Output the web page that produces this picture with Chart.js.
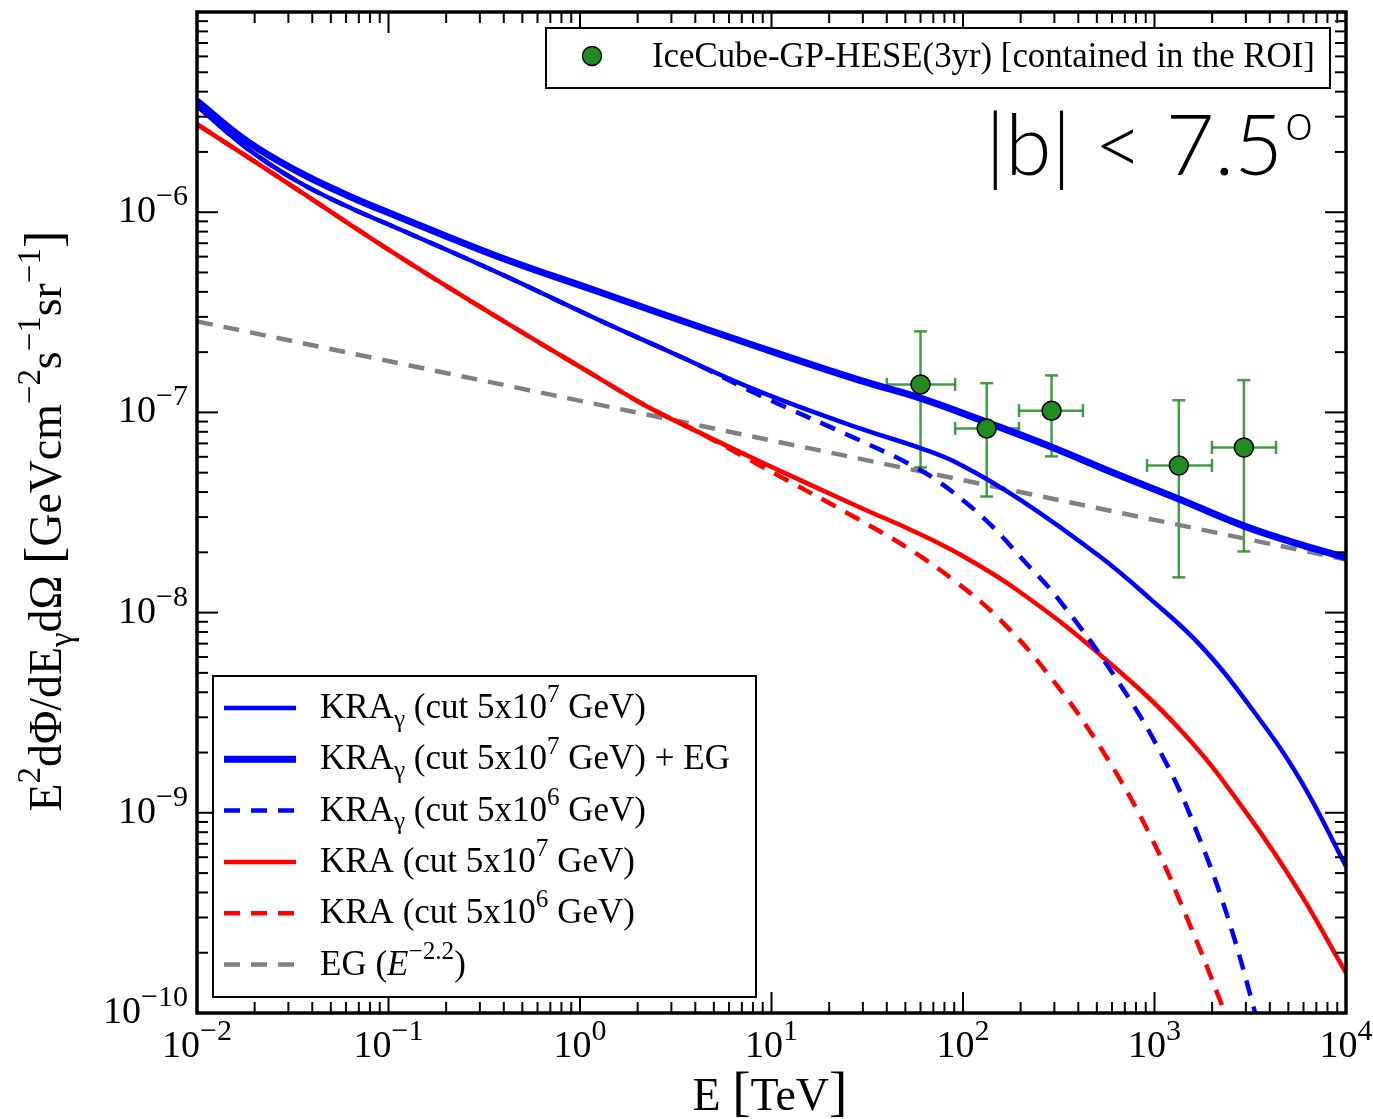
<!DOCTYPE html>
<html lang="en">
<head>
<meta charset="UTF-8" />
<title>KRA gamma |b| &lt; 7.5</title>
<script src="https://cdn.jsdelivr.net/npm/chart.js"></script>
<style>
body { margin: 0; background: #fff; }
#wrap { width: 1373px; height: 1119px; }
</style>
</head>
<body>
<div id="wrap"><canvas id="myChart" width="1373" height="1119"></canvas></div>
<script>
// tick labels (powers of ten)
const xTickExps = [-2, -1, 0, 1, 2, 3, 4];
const yTickExps = [-10, -9, -8, -7, -6];

// E in TeV, E^2 dPhi/dE in GeV cm^-2 s^-1 sr^-1
// KRA_gamma (cut 5x10^7 GeV) + EG
const eKraG7EG = [0.01, 0.0182, 0.0333, 0.0607, 0.111, 0.369, 1.23, 2.62, 8.7, 29, 60.4, 133.5, 285, 622, 1359, 2898, 5751, 10000];
const fKraG7EG = [3.59e-6, 2.265e-6, 1.603e-6, 1.216e-6, 9.55e-7, 6.03e-7, 4.03e-7, 3.13e-7, 2.11e-7, 1.445e-7, 1.175e-7, 8.91e-8, 6.76e-8, 4.95e-8, 3.67e-8, 2.72e-8, 2.19e-8, 1.88e-8];
// KRA_gamma (cut 5x10^7 GeV)
const eKraG7 = [0.01, 0.0182, 0.0333, 0.0607, 0.111, 0.369, 1.23, 2.62, 8.7, 29, 60.4, 96.5, 198.5, 519, 947, 1728, 3154, 5751, 10000];
const fKraG7 = [3.39e-6, 2.09e-6, 1.43e-6, 1.07e-6, 8.32e-7, 5.01e-7, 2.92e-7, 2.11e-7, 1.27e-7, 8.32e-8, 6.61e-8, 5.50e-8, 3.67e-8, 1.905e-8, 1.175e-8, 6.9e-9, 3.4e-9, 1.47e-9, 5.4e-10];
// KRA_gamma (cut 5x10^6 GeV)
const eKraG6 = [0.01, 0.0182, 0.0333, 0.0607, 0.111, 0.369, 1.23, 2.62, 4.08, 8.7, 29, 52.9, 73.1, 98.8, 127, 160, 198.5, 310, 637, 1162, 1728, 2391, 3268, 3776];
const fKraG6 = [3.39e-6, 2.09e-6, 1.43e-6, 1.07e-6, 8.32e-7, 5.01e-7, 2.92e-7, 2.11e-7, 1.738e-7, 1.216e-7, 7.24e-8, 5.50e-8, 4.57e-8, 3.67e-8, 2.99e-8, 2.40e-8, 1.905e-8, 1.19e-8, 4.62e-9, 1.74e-9, 7.33e-10, 3.09e-10, 1.096e-10, 6.17e-11];
// KRA (cut 5x10^7 GeV)
const eKra7 = [0.01, 0.0182, 0.0333, 0.111, 0.369, 1.23, 2.24, 4.08, 8.7, 29, 52.9, 96.5, 191, 519, 1409, 3154, 5751, 10000];
const fKra7 = [2.75e-6, 1.9e-6, 1.30e-6, 6.10e-7, 2.99e-7, 1.50e-7, 1.07e-7, 8.04e-8, 5.69e-8, 3.35e-8, 2.60e-8, 1.95e-8, 1.30e-8, 6.17e-9, 2.51e-9, 9.44e-10, 3.98e-10, 1.585e-10];
// KRA (cut 5x10^6 GeV)
const eKra6 = [0.01, 0.0182, 0.0333, 0.111, 0.369, 1.23, 2.24, 4.08, 8.7, 28, 51, 88.7, 156, 285, 519, 947, 1532, 2198, 2539];
const fKra6 = [2.75e-6, 1.9e-6, 1.30e-6, 6.10e-7, 2.99e-7, 1.50e-7, 1.07e-7, 8.04e-8, 5.43e-8, 2.95e-8, 2.11e-8, 1.46e-8, 9.23e-9, 4.79e-9, 2.14e-9, 7.76e-10, 2.75e-10, 1.16e-10, 8.0e-11];
// EG (E^-2.2)
const eEG = [0.01, 10000];
const fEG = [2.85e-7, 1.84e-8];

// IceCube-GP-HESE(3yr)
const heseE   = [60, 133, 290, 1340, 2930];
const heseELo = [40, 91, 196, 914, 1995];
const heseEHi = [91, 196, 423, 1995, 4310];
const heseF   = [1.38e-7, 8.32e-8, 1.02e-7, 5.43e-8, 6.68e-8];
const heseFLo = [5.31e-8, 3.80e-8, 6.03e-8, 1.50e-8, 2.02e-8];
const heseFHi = [2.54e-7, 1.40e-7, 1.53e-7, 1.15e-7, 1.45e-7];

const SERIF = '"Liberation Serif", "DejaVu Serif", serif';
const SANS = '"Lato", "Open Sans", "Liberation Sans", sans-serif';
const BLUE = '#0000ff', RED = '#ff0000', GREY = '#808080', GREEN = '#228b22';
const DASH = [16, 11];

function pts(e, f) { return e.map((v, i) => ({ x: v, y: f[i] })); }
function curve(e, f, color, width, dash) {
  return { data: pts(e, f), borderColor: color, borderWidth: width, borderDash: dash || [],
    pointRadius: 0, fill: false, tension: 0.4, order: 2 };
}

// rich text: runs of {t, sup, sub, italic, scale}
function runs(ctx, x, y, list, size, family, draw) {
  let cx = x;
  list.forEach(r => {
    let s = (r.sup || r.sub) ? size * 0.72 : size;
    if (r.scale) s *= r.scale;
    ctx.font = (r.italic ? 'italic ' : '') + s + 'px ' + family;
    const dy = r.sup ? -size * 0.45 : r.sub ? size * 0.25 : 0;
    if (draw) ctx.fillText(r.t, cx, y + dy);
    cx += ctx.measureText(r.t).width;
  });
  return cx - x;
}
function seg(ctx, x0, y0, x1, y1) { ctx.beginPath(); ctx.moveTo(x0, y0); ctx.lineTo(x1, y1); ctx.stroke(); }
function fit(ctx, list, family, target, lo, hi) {
  const w = runs(ctx, 0, 0, list, 100, family, false);
  return Math.max(lo, Math.min(hi, 100 * target / w));
}

const legendRows = [
  { color: BLUE, w: 4.5, dash: [], runs: [{t:'KRA'},{t:'γ',sub:1},{t:' (cut 5x10'},{t:'7',sup:1},{t:' GeV)'}] },
  { color: BLUE, w: 7, dash: [], runs: [{t:'KRA'},{t:'γ',sub:1},{t:' (cut 5x10'},{t:'7',sup:1},{t:' GeV) + EG'}] },
  { color: BLUE, w: 4.5, dash: DASH, runs: [{t:'KRA'},{t:'γ',sub:1},{t:' (cut 5x10'},{t:'6',sup:1},{t:' GeV)'}] },
  { color: RED, w: 4.5, dash: [], runs: [{t:'KRA (cut 5x10'},{t:'7',sup:1},{t:' GeV)'}] },
  { color: RED, w: 4.5, dash: DASH, runs: [{t:'KRA (cut 5x10'},{t:'6',sup:1},{t:' GeV)'}] },
  { color: GREY, w: 4.5, dash: DASH, runs: [{t:'EG ('},{t:'E',italic:1},{t:'−2.2',sup:1},{t:')'}] }
];

const decor = {
  id: 'decor',
  beforeDatasetsDraw(chart) {
    const { ctx } = chart;
    const xs = chart.scales.x, ys = chart.scales.y;
    ctx.save();
    ctx.strokeStyle = 'rgba(34,139,34,0.85)';
    ctx.lineWidth = 2.5;
    heseE.forEach((e, i) => {
      const px = xs.getPixelForValue(e), py = ys.getPixelForValue(heseF[i]);
      const x0 = xs.getPixelForValue(heseELo[i]), x1 = xs.getPixelForValue(heseEHi[i]);
      const y0 = ys.getPixelForValue(heseFLo[i]), y1 = ys.getPixelForValue(heseFHi[i]);
      seg(ctx, x0, py, x1, py);
      seg(ctx, px, y0, px, y1);
      seg(ctx, x0, py - 6.5, x0, py + 6.5);
      seg(ctx, x1, py - 6.5, x1, py + 6.5);
      seg(ctx, px - 6.5, y0, px + 6.5, y0);
      seg(ctx, px - 6.5, y1, px + 6.5, y1);
    });
    ctx.restore();
  },
  afterDraw(chart) {
    const { ctx, chartArea: ca } = chart;
    const xs = chart.scales.x, ys = chart.scales.y;
    ctx.save();
    ctx.strokeStyle = '#000';
    ctx.fillStyle = '#000';

    // ticks, all four sides, pointing in
    ctx.lineWidth = 2;
    for (let d = -2; d <= 4; d++) {
      for (let m = 1; m <= 9; m++) {
        if (d === 4 && m > 1) break;
        const px = xs.getPixelForValue(m * Math.pow(10, d));
        const len = m === 1 ? 21 : 11;
        seg(ctx, px, ca.bottom, px, ca.bottom - len);
        seg(ctx, px, ca.top, px, ca.top + len);
      }
    }
    for (let d = -10; d <= -5; d++) {
      for (let m = 1; m <= 9; m++) {
        if (d === -5 && m > 1) break;
        const py = ys.getPixelForValue(m * Math.pow(10, d));
        const len = m === 1 ? 21 : 11;
        seg(ctx, ca.left, py, ca.left + len, py);
        seg(ctx, ca.right, py, ca.right - len, py);
      }
    }
    ctx.lineWidth = 3.5;
    ctx.strokeRect(ca.left, ca.top, ca.right - ca.left, ca.bottom - ca.top);

    // tick labels
    ctx.textBaseline = 'alphabetic';
    ctx.textAlign = 'left';
    const TS = 38;
    xTickExps.forEach(n => {
      const lab = [{t:'10'},{t:(n < 0 ? '−' : '') + Math.abs(n), sup:1, scale:1.1}];
      const w = runs(ctx, 0, 0, lab, TS, SERIF, false);
      const px = xs.getPixelForValue(Math.pow(10, n));
      runs(ctx, px - w / 2, ca.bottom + 44, lab, TS, SERIF, true);
    });
    yTickExps.forEach(n => {
      const lab = [{t:'10'},{t:'−' + Math.abs(n), sup:1, scale:1.1}];
      const w = runs(ctx, 0, 0, lab, TS, SERIF, false);
      const py = ys.getPixelForValue(Math.pow(10, n));
      runs(ctx, 188 - w, py + 10, lab, TS, SERIF, true);
    });

    // axis titles
    const xt = [{t:'E '},{t:'[',scale:1.2},{t:'TeV'},{t:']',scale:1.2}];
    const xw = runs(ctx, 0, 0, xt, 46, SERIF, false);
    runs(ctx, 770 - xw / 2, 1110, xt, 46, SERIF, true);

    const yt = [{t:'E'},{t:'2',sup:1},{t:'dΦ/dE'},{t:'γ',sub:1},{t:'dΩ '},{t:'[',scale:1.15},{t:'GeVcm'},{t:'−2',sup:1},
      {t:'s'},{t:'−1',sup:1},{t:'sr'},{t:'−1',sup:1},{t:']',scale:1.15}];
    const ys0 = fit(ctx, yt, SERIF, 581, 36, 46);
    const yw = runs(ctx, 0, 0, yt, ys0, SERIF, false);
    ctx.save();
    ctx.translate(61, 521);
    ctx.rotate(-Math.PI / 2);
    runs(ctx, -yw / 2, 0, yt, ys0, SERIF, true);
    ctx.restore();

    // |b| < 7.5 deg
    const bs = 84;
    ctx.font = '300 ' + bs + 'px ' + SANS;
    const bMain = ctx.measureText('|b| < 7.5').width;
    ctx.font = '300 ' + (bs * 0.6) + 'px ' + SANS;
    const bDeg = ctx.measureText('o').width;
    let cx = 1313 - bMain - bDeg - 2;
    ctx.font = '300 ' + bs + 'px ' + SANS;
    ctx.fillText('|b| < 7.5', cx, 175);
    ctx.font = '300 ' + (bs * 0.6) + 'px ' + SANS;
    ctx.fillText('o', cx + bMain + 2, 175 - bs * 0.42);

    // data legend, top right
    ctx.lineWidth = 2;
    ctx.fillStyle = '#fff';
    ctx.fillRect(546, 28, 784, 60);
    ctx.strokeRect(546, 28, 784, 60);
    ctx.beginPath();
    ctx.arc(592, 56, 9.5, 0, Math.PI * 2);
    ctx.fillStyle = GREEN;
    ctx.fill();
    ctx.lineWidth = 1.5;
    ctx.stroke();
    ctx.fillStyle = '#000';
    const tl = [{t:'IceCube-GP-HESE(3yr) [contained in the ROI]'}];
    const ts = fit(ctx, tl, SERIF, 663, 26, 36);
    runs(ctx, 652, 67, tl, ts, SERIF, true);

    // curve legend, bottom left
    ctx.lineWidth = 2;
    ctx.fillStyle = '#fff';
    ctx.fillRect(213, 676, 543, 321);
    ctx.strokeRect(213, 676, 543, 321);
    const ls = fit(ctx, legendRows[1].runs, SERIF, 422, 26, 35);
    legendRows.forEach((r, i) => {
      const y = 708 + i * 51.3;
      ctx.strokeStyle = r.color;
      ctx.lineWidth = r.w;
      ctx.setLineDash(r.dash);
      seg(ctx, 224, y, 296, y);
      ctx.setLineDash([]);
      ctx.fillStyle = '#000';
      runs(ctx, 320, y + 10, r.runs, ls, SERIF, true);
    });
    ctx.restore();
  }
};

const ctx = document.getElementById('myChart').getContext('2d');
new Chart(ctx, {
  type: 'line',
  data: {
    datasets: [
      { data: pts(heseE, heseF), showLine: false, pointRadius: 9.5, pointHoverRadius: 9.5,
        backgroundColor: GREEN, borderColor: '#000', borderWidth: 1.5, order: 0 },
      curve(eKraG7EG, fKraG7EG, BLUE, 7),
      curve(eKraG7, fKraG7, BLUE, 4.5),
      curve(eKraG6, fKraG6, BLUE, 4.5, DASH),
      curve(eKra7, fKra7, RED, 4.5),
      curve(eKra6, fKra6, RED, 4.5, DASH),
      curve(eEG, fEG, GREY, 4.5, DASH)
    ]
  },
  options: {
    responsive: false,
    animation: false,
    devicePixelRatio: 1,
    layout: { padding: { left: 197, right: 27, top: 12, bottom: 106 } },
    scales: {
      x: { type: 'logarithmic', min: 0.01, max: 10000, display: false },
      y: { type: 'logarithmic', min: 1e-10, max: 1e-5, display: false }
    },
    plugins: { legend: { display: false }, tooltip: { enabled: false } }
  },
  plugins: [decor]
});
</script>
</body>
</html>
